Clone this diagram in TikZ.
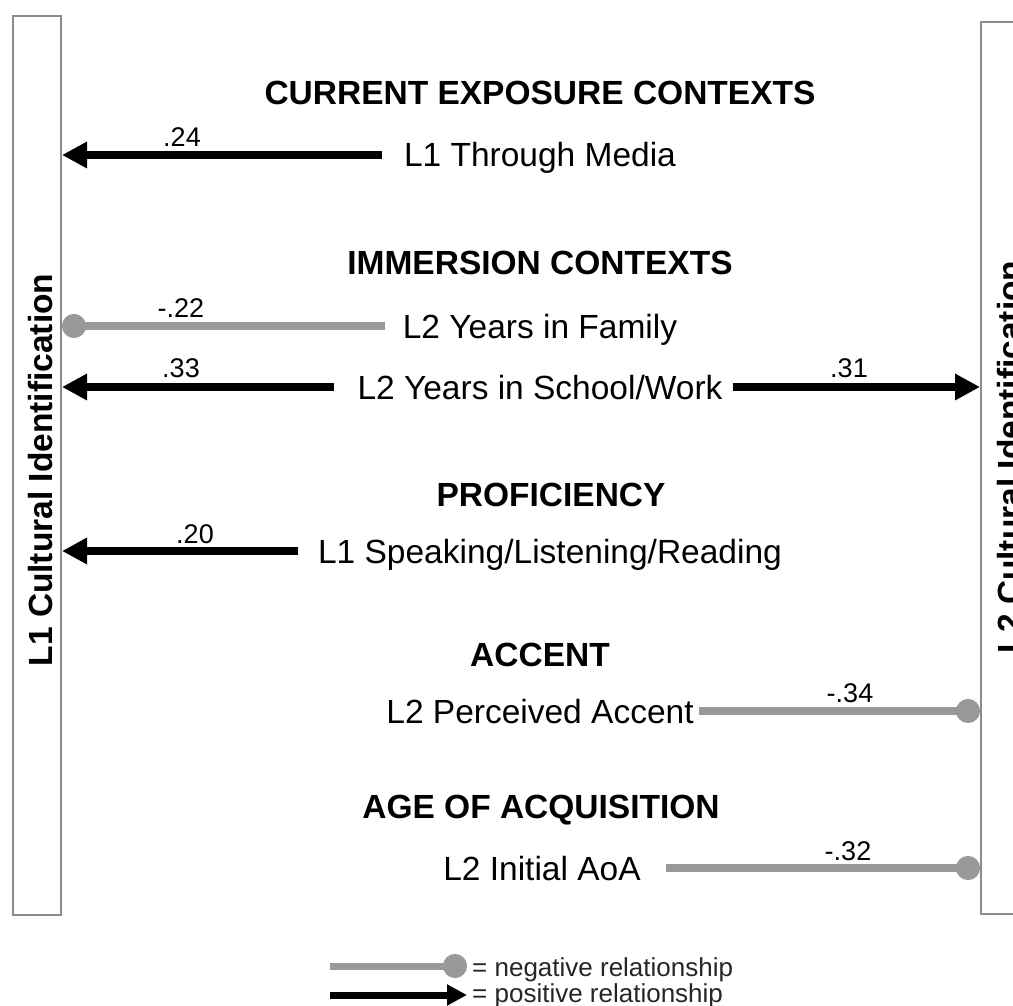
\documentclass[tikz,border=0pt]{standalone}
\usepackage{fontspec}
\setmainfont{Liberation Sans}
\usetikzlibrary{arrows.meta, positioning}
\definecolor{lnkgray}{gray}{0.6}
\definecolor{boxgray}{gray}{0.55}
\newcommand{\bigf}{\fontsize{33.5}{40}\selectfont}
\newcommand{\coeff}{\fontsize{27}{32}\selectfont}
\newcommand{\keyf}{\fontsize{26}{31}\selectfont}

\begin{document}
\begin{tikzpicture}[x=1pt, y=-1pt,
  idbox/.style={draw=boxgray, line width=2pt, minimum width=48pt, inner sep=0pt},
  idtext/.style={font=\bigf\bfseries, rotate=90, text height=24pt, text depth=0pt, inner sep=0pt},
  head/.style={font=\bigf\bfseries, text height=24pt, text depth=0pt, inner sep=0pt},
  item/.style={font=\bigf, text height=24pt, text depth=0pt, inner sep=0pt},
  coef/.style={font=\coeff, anchor=base, inner sep=0pt},
  keytxt/.style={font=\keyf, text=black!85, text height=18.7pt, text depth=0pt, inner sep=0pt, anchor=west},
  posline/.style={line width=8pt, -{Triangle[length=25pt, width=25pt]}},
  negline/.style={draw=lnkgray, line width=8pt, -{Circle[length=24pt]}}]
\path[use as bounding box, clip] (0,0) rectangle (1013,1006);

%Identification boxes
\node[idbox, minimum height=899pt] (l1box) at (37,465.5) {};
\node[idtext] (l1text) at (40,470) {L1 Cultural Identification};
\node[idbox, minimum height=892pt] (l2box) at (1005,468) {};
\node[idtext] (l2text) at (1009,457) {L2 Cultural Identification};

%Current exposure
\node[head] (hcur) at (540,93) {CURRENT EXPOSURE CONTEXTS};
\node[item] (media) at (540,155) {L1 Through Media};
\draw[posline] ([xshift=-22pt]media.west) -- (media.west -| l1box.east);
\node[coef] (c24) at (182,147) {.24};

%Immersion
\node[head] (himm) at (540,262) {IMMERSION CONTEXTS};
\node[item] (family) at (540,326) {L2 Years in Family};
\draw[negline] ([xshift=-18pt]family.west) -- (family.west -| l1box.east);
\node[coef] (c22) at (181,317) {-.22};
\node[item] (school) at (540,387) {L2 Years in School/Work};
\draw[posline] ([xshift=-23pt]school.west) -- (school.west -| l1box.east);
\draw[posline] ([xshift=10pt]school.east) -- (school.east -| l2box.west);
\node[coef] (c33) at (181,377) {.33};
\node[coef] (c31) at (849,377) {.31};

%Proficiency
\node[head] (hprof) at (551,494) {PROFICIENCY};
\node[item] (speak) at (550,551) {L1 Speaking/Listening/Reading};
\draw[posline] ([xshift=-20pt]speak.west) -- (speak.west -| l1box.east);
\node[coef] (c20) at (195,543) {.20};

%Accent
\node[head] (hacc) at (540,654) {ACCENT};
\node[item] (accent) at (540,711) {L2 Perceived Accent};
\draw[negline] ([xshift=5pt]accent.east) -- (accent.east -| l2box.west);
\node[coef] (c34) at (850,702) {-.34};

%Age of acquisition
\node[head] (haoa) at (541,806) {AGE OF ACQUISITION};
\node[item] (aoa) at (542,868) {L2 Initial AoA};
\draw[negline] ([xshift=25pt]aoa.east) -- (aoa.east -| l2box.west);
\node[coef] (c32) at (848,860) {-.32};

%Legend
\coordinate (neg0) at (330,966);
\node[keytxt] (negkey) at (472,967) {= negative relationship};
\draw[negline, line width=7pt] (neg0) -- ([xshift=-5pt]negkey.west |- neg0);
\coordinate (pos0) at (330,995);
\node[keytxt] (poskey) at (472,993) {= positive relationship};
\draw[posline, line width=7pt, -{Triangle[length=20pt, width=20pt]}] (pos0) -- ([xshift=-5pt]poskey.west |- pos0);
\end{tikzpicture}
\end{document}
